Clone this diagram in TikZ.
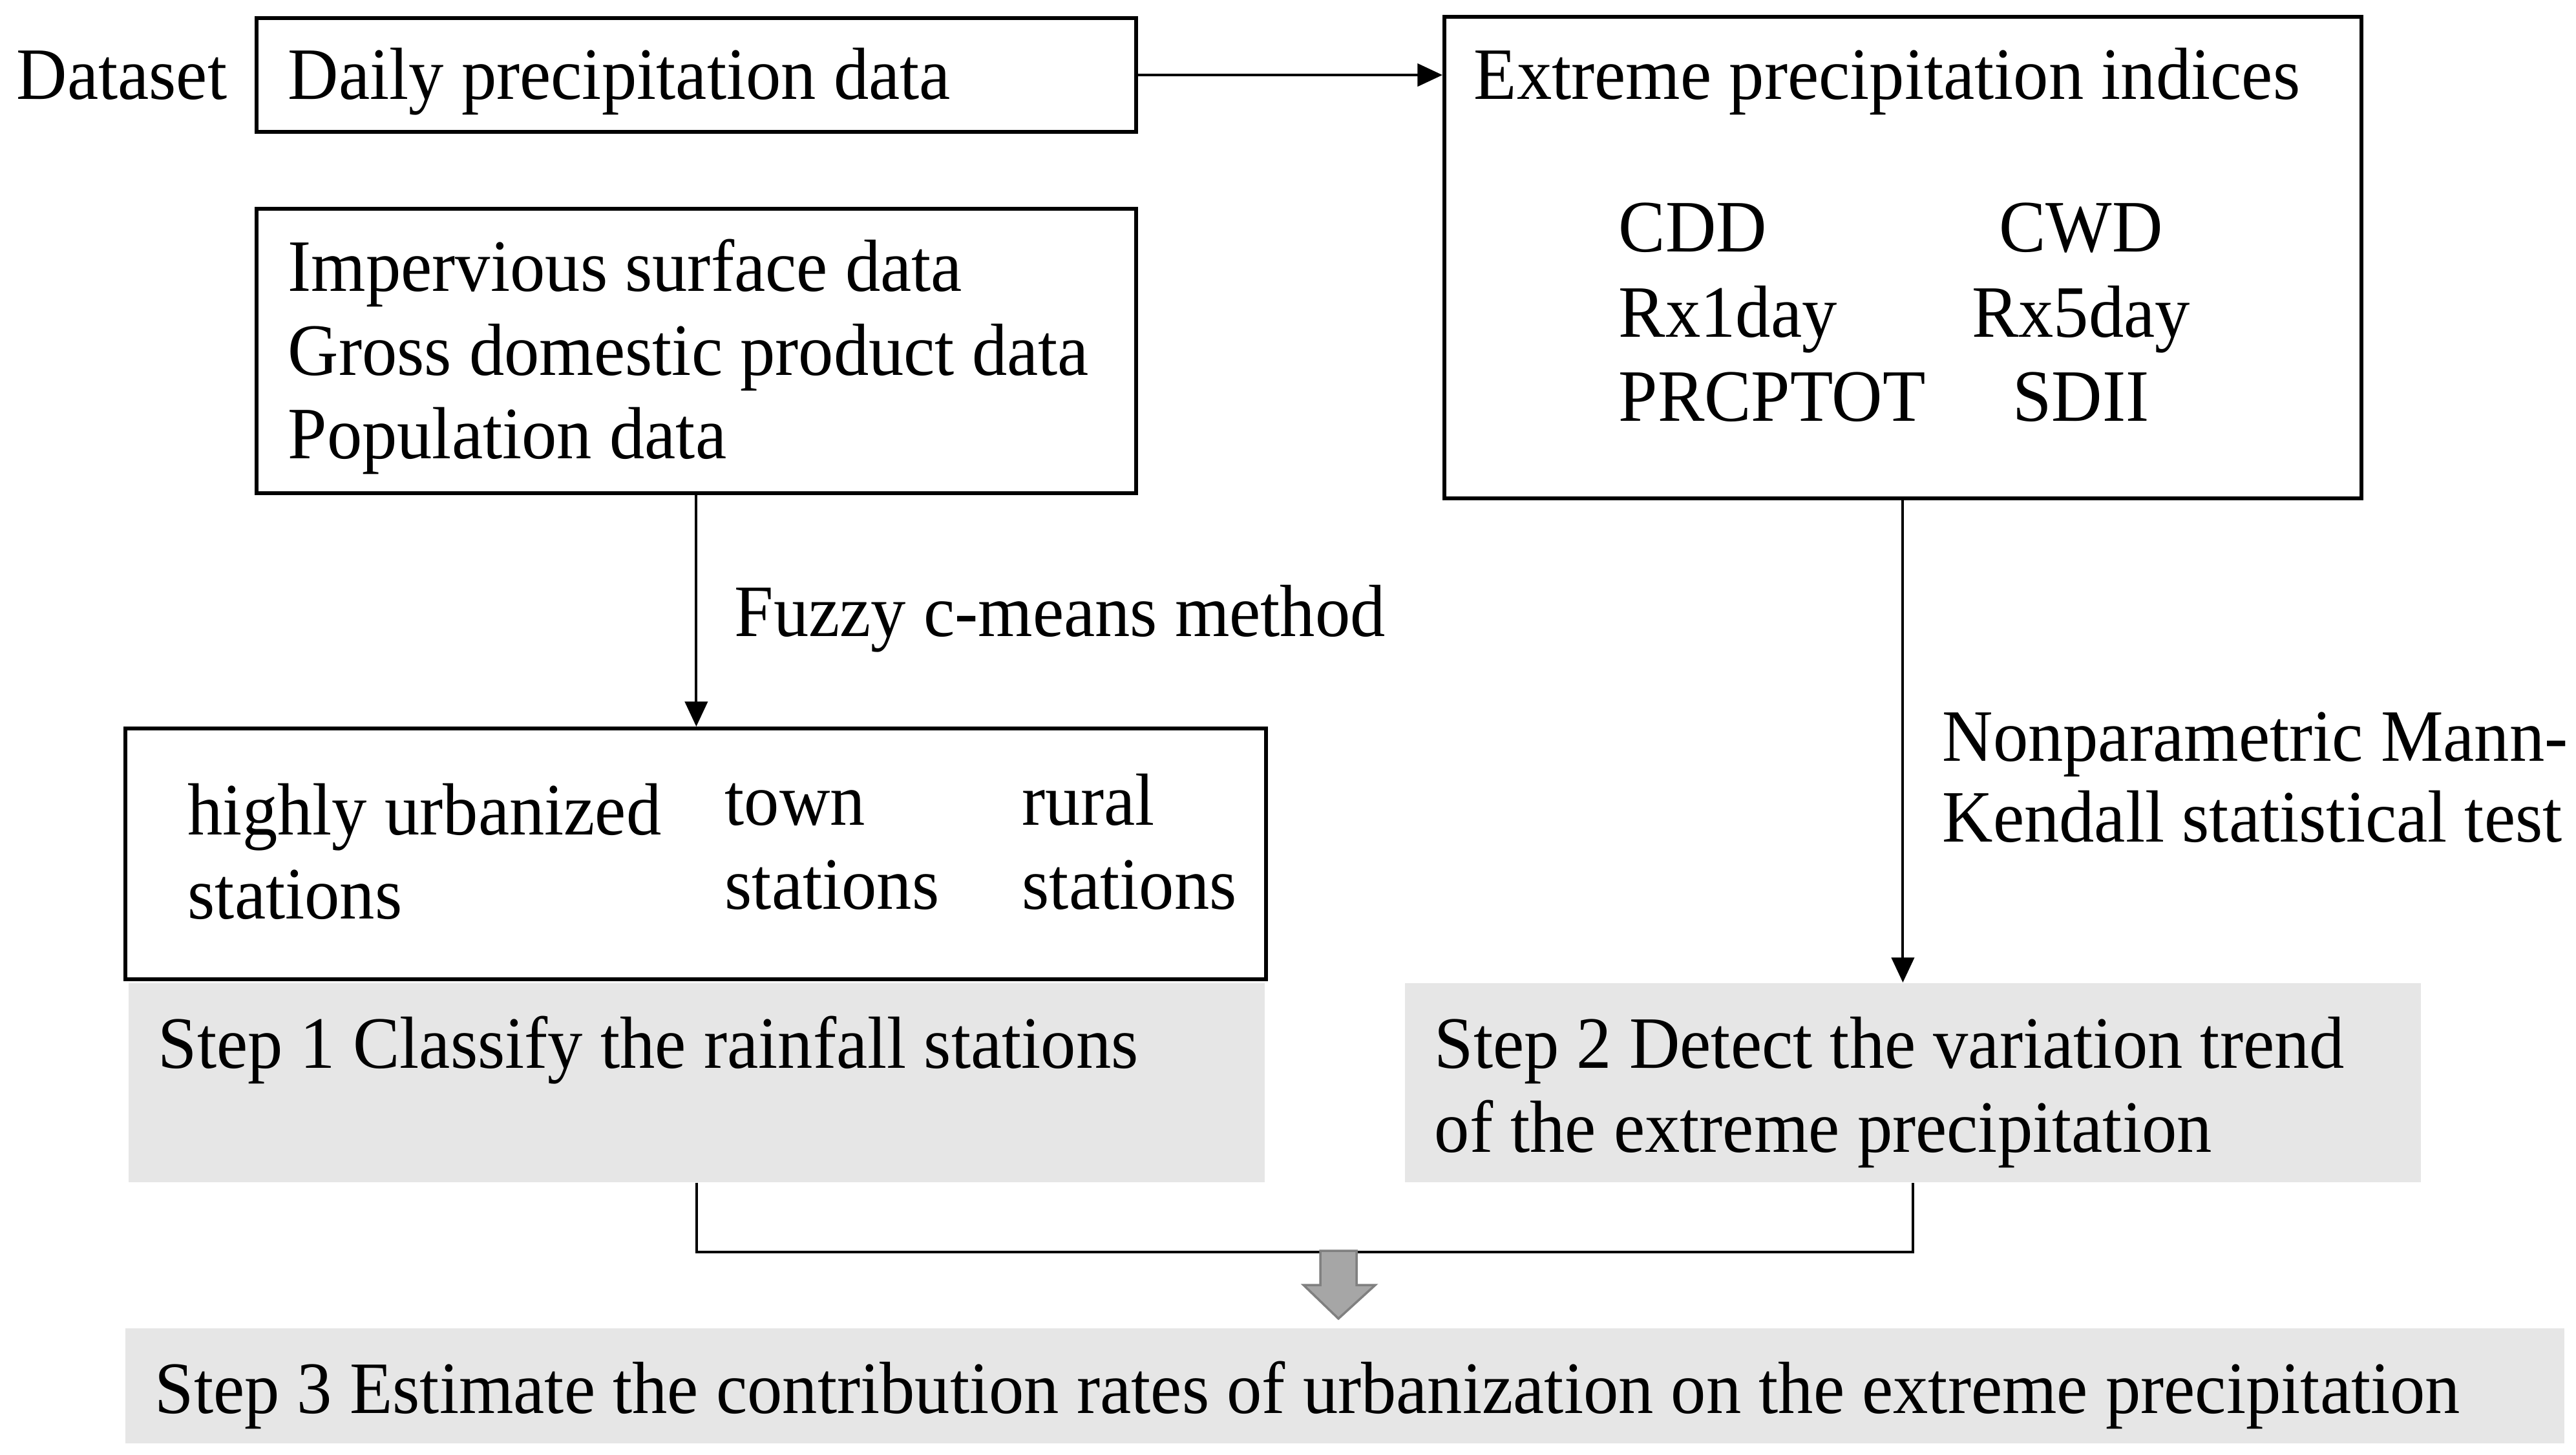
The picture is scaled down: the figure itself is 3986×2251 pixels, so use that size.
\documentclass[tikz,border=0pt]{standalone}
\usepackage{fontspec}
\setmainfont[FakeStretch=0.95]{Liberation Serif}
\usetikzlibrary{calc,arrows.meta}
\definecolor{stepgray}{RGB}{230,230,230}
\definecolor{arrowfill}{RGB}{166,166,166}
\definecolor{arrowline}{RGB}{128,128,128}
\begin{document}
\begin{tikzpicture}[x=0.01cm,y=-0.01cm,
  every node/.style={font=\fontsize{32.5}{37}\selectfont},
  framebox/.style={draw=black,line width=1.7pt,fill=white,inner sep=0pt,anchor=north west},
  graybox/.style={draw=none,fill=stepgray,inner sep=0pt,anchor=north west},
  txt/.style={anchor=base west,inner sep=0pt},
  conn/.style={line width=1.1pt,-{Triangle[length=11pt,width=10pt]}},
  plain/.style={line width=1.1pt}]
\useasboundingbox (0,0) rectangle (3986,2251);
% boxes
\node[framebox,minimum width=13.60cm,minimum height=1.76cm] (daily) at (394,25) {};
\node[framebox,minimum width=14.18cm,minimum height=7.45cm] (ext) at (2232,23) {};
\node[framebox,minimum width=13.60cm,minimum height=4.40cm] (imp) at (394,320) {};
\node[framebox,minimum width=17.64cm,minimum height=3.88cm] (stat) at (191,1124) {};
\node[graybox,minimum width=17.57cm,minimum height=3.08cm] (s1) at (198,1520) {};
\node[graybox,minimum width=15.71cm,minimum height=3.08cm] (s2) at (2173,1520) {};
\node[graybox,minimum width=37.72cm,minimum height=1.78cm] (s3) at (193,2054) {};
% texts
\node[txt] (tds) at (25,153) {Dataset};
\node[txt] (tdaily) at (445,153) {Daily precipitation data};
\node[txt] (text) at (2280,153) {Extreme precipitation indices};
\node[txt] (tcdd) at (2504,389) {CDD};
\node[txt] (trx1) at (2504,521) {Rx1day};
\node[txt] (tprc) at (2504,651) {PRCPTOT};
\node[anchor=base,inner sep=0pt] (tcwd) at (3220,389) {CWD};
\node[anchor=base,inner sep=0pt] (trx5) at (3220,521) {Rx5day};
\node[anchor=base,inner sep=0pt] (tsdii) at (3220,651) {SDII};
\node[txt] (timp1) at (445,450) {Impervious surface data};
\node[txt] (timp2) at (445,580) {Gross domestic product data};
\node[txt] (timp3) at (445,709) {Population data};
\node[txt] (tfcm) at (1136,984) {Fuzzy c-means method};
\node[txt] (th1) at (290,1291) {highly urbanized};
\node[txt] (th2) at (290,1421) {stations};
\node[txt] (tt1) at (1121,1276) {town};
\node[txt] (tt2) at (1121,1406) {stations};
\node[txt] (tr1) at (1581,1276) {rural};
\node[txt] (tr2) at (1581,1406) {stations};
\node[txt] (tmk1) at (3005,1177) {Nonparametric Mann-};
\node[txt] (tmk2) at (3005,1302) {Kendall statistical test};
\node[txt] (ts1) at (244,1652) {Step 1 Classify the rainfall stations};
\node[txt] (ts2a) at (2219,1652) {Step 2 Detect the variation trend};
\node[txt] (ts2b) at (2219,1782) {of the extreme precipitation};
\node[txt] (ts3) at (239,2186) {Step 3 Estimate the contribution rates of urbanization on the extreme precipitation};
% connectors
\draw[conn] (daily.east) -- (daily.east -| ext.west);
\draw[conn] (imp.south) -- (imp.south |- stat.north);
\draw[conn] (ext.south) -- (ext.south |- s2.north);
\coordinate (jl) at ($(s1.south)+(0,107)$);
\coordinate (jr) at (jl -| s2.south);
\draw[plain] (s1.south) -- (jl) -- (jr) -- (s2.south);
% block arrow
\draw[fill=arrowfill,draw=arrowline,line width=1pt]
  (2043,1935) -- (2099,1935) -- (2099,1988) -- (2128,1988) -- (2071,2040)
  -- (2017,1988) -- (2043,1988) -- cycle;
\end{tikzpicture}
\end{document}
